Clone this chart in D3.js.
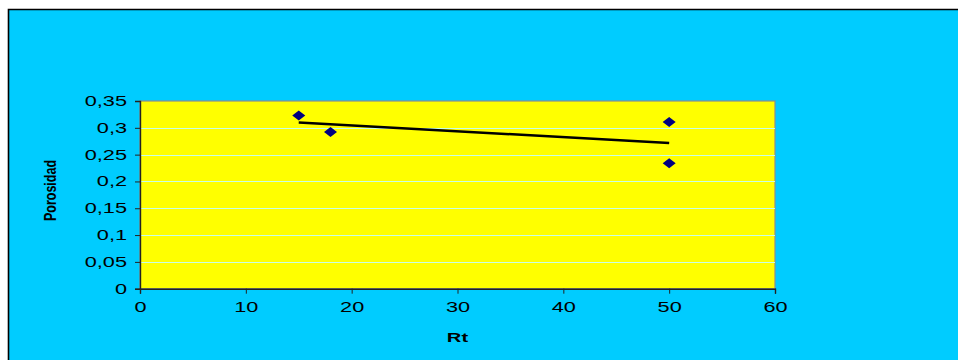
<!DOCTYPE html>
<html>
<head>
<meta charset="utf-8">
<script src="https://cdn.jsdelivr.net/npm/d3@7"></script>
<style>
  html, body { margin: 0; padding: 0; background: #ffffff; overflow: hidden; }
  svg { display: block; font-family: "Liberation Sans", Arial, sans-serif; }
</style>
</head>
<body>
<svg id="chart" width="958" height="360"></svg>
<script>
// Resistividad (Rt) vs. porosidad
const rtValues = [15, 18, 50, 50];
const porosityValues = [0.323, 0.292, 0.311, 0.234];
const xTicks = [0, 10, 20, 30, 40, 50, 60];
const yTicks = [0, 0.05, 0.1, 0.15, 0.2, 0.25, 0.3, 0.35];
const xTitle = "Rt";
const yTitle = "Porosidad";

const svg = d3.select("#chart");
const W = 958, H = 360;
const WIDEN = 1.55; // horizontal widening of the label lettering

// stretch a text element horizontally, keeping its anchor
function widen(sel, k) {
  sel.each(function () {
    const w = this.getComputedTextLength();
    d3.select(this)
      .attr("textLength", w * k)
      .attr("lengthAdjust", "spacingAndGlyphs");
  });
}

// chart background, framed on its top and left edges
svg.append("rect")
  .attr("x", 8.5).attr("y", 9.5)
  .attr("width", W - 8.5).attr("height", H - 9.5)
  .attr("fill", "#00CCFF");
svg.append("path")
  .attr("d", `M8.5,${H} V9.5 H${W}`)
  .attr("fill", "none")
  .attr("stroke", "#000").attr("stroke-width", 1.6);

const plot = { left: 140, top: 101, right: 775, bottom: 288.7 };

const x = d3.scaleLinear().domain([0, 60]).range([plot.left, plot.right]);
const y = d3.scaleLinear().domain([0, 0.35]).range([plot.bottom, plot.top]);

// plot area
svg.append("rect")
  .attr("x", plot.left).attr("y", plot.top)
  .attr("width", plot.right - plot.left).attr("height", plot.bottom - plot.top)
  .attr("fill", "#FFFF00")
  .attr("stroke", "#8c8c8c").attr("stroke-width", 1.2);

// horizontal gridlines
svg.append("g")
  .selectAll("line")
  .data(yTicks.filter(t => t > 0 && t < 0.35))
  .join("line")
  .attr("x1", plot.left).attr("x2", plot.right)
  .attr("y1", d => Math.round(y(d)) + 0.5).attr("y2", d => Math.round(y(d)) + 0.5)
  .attr("stroke", "#c8ffe8").attr("stroke-width", 1);

const fmt = d3.formatLocale({ decimal: ",", thousands: ".", grouping: [3], currency: ["", ""] });
const yFmt = d => fmt.format("~g")(d);

// axes
const xAxis = svg.append("g")
  .attr("transform", `translate(0,${plot.bottom})`)
  .call(d3.axisBottom(x).tickValues(xTicks).tickSize(5).tickPadding(10).tickFormat(d3.format("d")));
const yAxis = svg.append("g")
  .attr("transform", `translate(${plot.left},0)`)
  .call(d3.axisLeft(y).tickValues(yTicks).tickSize(5).tickPadding(8).tickFormat(yFmt));

[xAxis, yAxis].forEach(g => {
  g.attr("font-size", null).attr("font-family", null);
  g.select(".domain").attr("stroke", "#222").attr("stroke-width", 1.4);
  g.selectAll(".tick line").attr("stroke", "#222").attr("stroke-width", 1);
  g.selectAll(".tick text")
    .attr("fill", "#000")
    .style("font-size", "14px")
    .style("font-family", "'Liberation Sans', Arial, sans-serif")
    .call(widen, WIDEN);
});
xAxis.selectAll(".tick text").attr("dy", "0.6em");

// least-squares trend line
const n = rtValues.length;
const mx = d3.mean(rtValues), my = d3.mean(porosityValues);
let sxy = 0, sxx = 0;
for (let i = 0; i < n; i++) {
  sxy += (rtValues[i] - mx) * (porosityValues[i] - my);
  sxx += (rtValues[i] - mx) ** 2;
}
const slope = sxy / sxx, intercept = my - slope * mx;
const [x0, x1] = d3.extent(rtValues);
svg.append("line")
  .attr("x1", x(x0)).attr("y1", y(intercept + slope * x0))
  .attr("x2", x(x1)).attr("y2", y(intercept + slope * x1))
  .attr("stroke", "#000").attr("stroke-width", 2.5);

// data markers (diamonds)
svg.append("g")
  .selectAll("path")
  .data(rtValues.map((r, i) => [r, porosityValues[i]]))
  .join("path")
  .attr("transform", d => `translate(${x(d[0])},${y(d[1])})`)
  .attr("d", "M0,-5 L6.5,0 L0,5 L-6.5,0 Z")
  .attr("fill", "#000080");

// axis titles
svg.append("text")
  .attr("x", x(30)).attr("y", 341.5)
  .attr("text-anchor", "middle")
  .style("font-size", "13px").style("font-weight", "bold")
  .text(xTitle)
  .call(widen, WIDEN);

svg.append("text")
  .attr("transform", "translate(56,190.5) scale(1.15,1) rotate(-90)")
  .attr("text-anchor", "middle")
  .attr("textLength", 61).attr("lengthAdjust", "spacingAndGlyphs")
  .style("font-size", "14px").style("font-weight", "bold")
  .text(yTitle);
</script>
</body>
</html>
